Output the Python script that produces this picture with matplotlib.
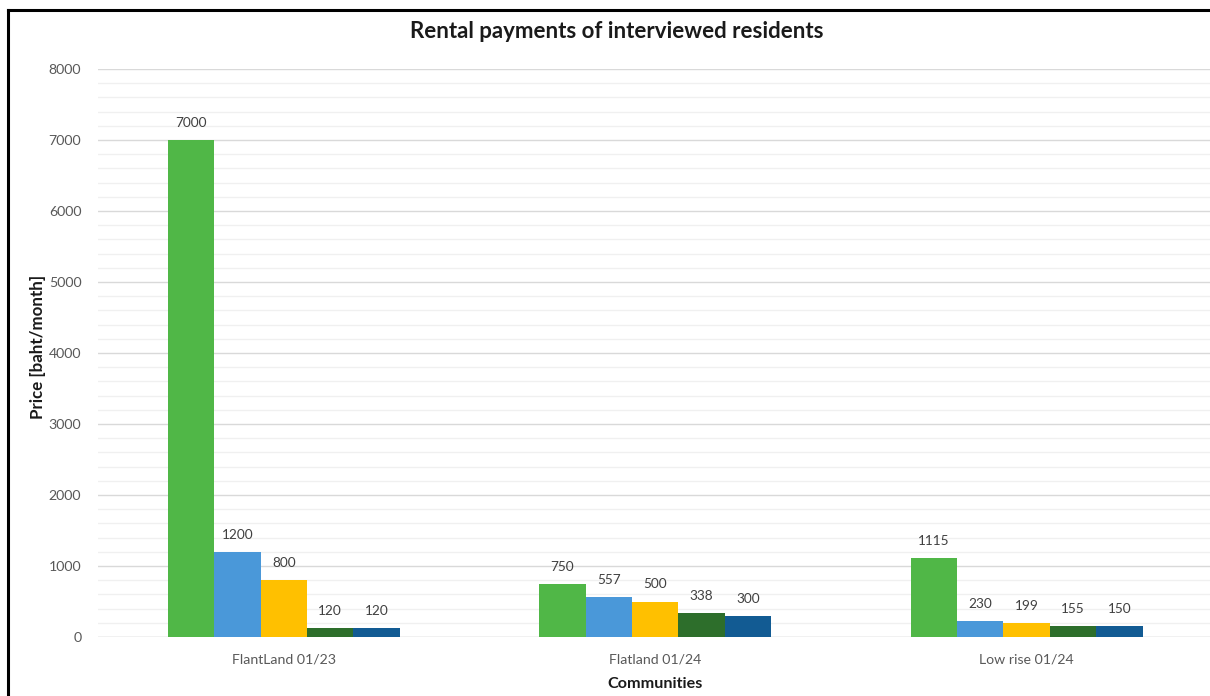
import matplotlib
matplotlib.use("Agg")
import matplotlib.pyplot as plt
import numpy as np
from matplotlib.lines import Line2D

categories = ["FlantLand 01/23", "Flatland 01/24", "Low rise 01/24"]
series1 = [7000, 750, 1115]
series2 = [1200, 557, 230]
series3 = [800, 500, 199]
series4 = [120, 338, 155]
series5 = [120, 300, 150]
colors = ["#50B747", "#4A98D9", "#FFC000", "#2D6E2B", "#125B93"]
yticks = [0, 1000, 2000, 3000, 4000, 5000, 6000, 7000, 8000]

plt.rcParams['font.family'] = ['Lato', 'DejaVu Sans']

fig = plt.figure(figsize=(12.1, 6.96), dpi=100)
ax = fig.add_axes([98/1210, 59/696, 1 - 98/1210 + 0.002, (637-69)/696])

data = [series1, series2, series3, series4, series5]
x = np.arange(len(categories))
w = 0.125
for i, (vals, c) in enumerate(zip(data, colors)):
    pos = x + (i - 2) * w
    bars = ax.bar(pos, vals, width=w, color=c, zorder=3)
    for b, v in zip(bars, vals):
        ax.annotate(str(v), (b.get_x() + b.get_width()/2, v), xytext=(0, 8),
                    textcoords="offset points", ha="center", va="bottom",
                    fontsize=9.8, color="#404040")

ax.set_xlim(-0.5, 2.5)
ax.set_ylim(0, 8000)
ax.set_yticks(yticks)
ax.set_yticks(np.arange(0, 8001, 200), minor=True)
ax.grid(which="major", axis="y", color="#D9D9D9", lw=1, zorder=0)
ax.grid(which="minor", axis="y", color="#F0F0F0", lw=1, zorder=0)
ax.set_xticks(x)
ax.set_xticklabels(categories)
ax.tick_params(axis="both", which="both", length=0, labelsize=10.2, labelcolor="#595959")
ax.tick_params(axis="y", pad=12)
ax.tick_params(axis="x", pad=12)
for s in ax.spines.values():
    s.set_visible(False)
ax.axhline(0, color="#D9D9D9", lw=1, zorder=2)

fig.text(617/1210, 1 - 31/696, "Rental payments of interviewed residents",
         ha="center", va="center", fontsize=16, fontweight="bold", color="#1a1a1a")
fig.text(38/1210, 1 - 347/696, "Price [baht/month]", rotation=90, ha="center",
         va="center", fontsize=12.2, fontweight="bold", color="#1a1a1a")
fig.text(655/1210, 1 - 684/696, "Communities", ha="center", va="center",
         fontsize=11.6, fontweight="bold", color="#1a1a1a")

fig.add_artist(Line2D([8/1210, 8/1210], [0, 1 - 10/696], transform=fig.transFigure,
                      color="black", lw=2.2))
fig.add_artist(Line2D([8/1210, 1], [1 - 10/696, 1 - 10/696], transform=fig.transFigure,
                      color="black", lw=2.2))

fig.savefig("out.png", dpi=100)
